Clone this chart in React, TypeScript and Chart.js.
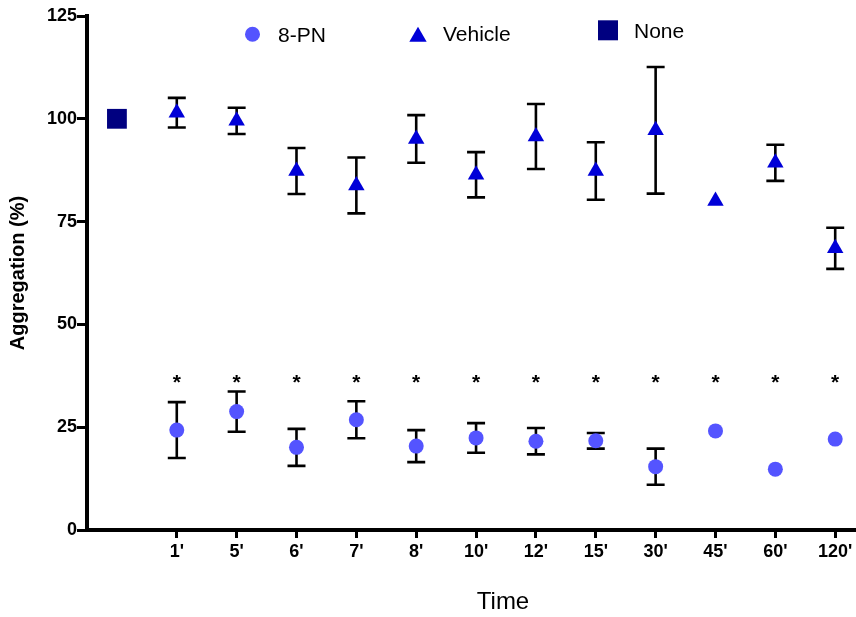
import { useEffect, useRef } from 'react';
import { Chart, registerables } from 'chart.js';

Chart.register(...registerables);

// ---- data ----
const TIME_LABELS = ['', "1'", "5'", "6'", "7'", "8'", "10'", "12'", "15'", "30'", "45'", "60'", "120'"];
const NONE_VALUE = [100];
const VEHICLE_MEAN = [101.5, 99.5, 87.3, 83.8, 95.1, 86.4, 95.7, 87.3, 97.2, 80.0, 89.3, 68.5];
const VEHICLE_SEM = [3.6, 3.2, 5.6, 6.8, 5.8, 5.5, 7.9, 7.0, 15.4, 0, 4.4, 5.0];
const PN_MEAN = [24.3, 28.8, 20.1, 26.8, 20.4, 22.4, 21.6, 21.7, 15.4, 24.1, 14.8, 22.1];
const PN_SEM = [6.8, 4.9, 4.5, 4.5, 3.9, 3.6, 3.2, 1.9, 4.4, 0, 0, 0];
const SIG_MARKS = ['*', '*', '*', '*', '*', '*', '*', '*', '*', '*', '*', '*'];
const SIG_LEVEL = 37;
const Y_TICKS = [0, 25, 50, 75, 100, 125];
const SERIES_NAMES = ['8-PN', 'Vehicle', 'None'];

const FONT = "'Liberation Sans', Arial, Helvetica, sans-serif";

const errorBarPlugin = {
  id: 'errorBars',
  beforeDatasetsDraw(chart: any) {
    const { ctx, scales } = chart;
    const x = scales.x;
    const y = scales.y;
    ctx.save();
    ctx.strokeStyle = '#000';
    ctx.lineWidth = 2.6;
    ctx.lineCap = 'butt';
    chart.data.datasets.forEach((ds: any) => {
      const errs = ds.errors;
      if (!errs) return;
      ds.data.forEach((pt: any, i: number) => {
        const e = errs[i];
        if (!e) return;
        const px = x.getPixelForValue(pt.x);
        const top = y.getPixelForValue(pt.y + e);
        const bot = y.getPixelForValue(pt.y - e);
        ctx.beginPath();
        ctx.moveTo(px, top);
        ctx.lineTo(px, bot);
        ctx.moveTo(px - 9, top);
        ctx.lineTo(px + 9, top);
        ctx.moveTo(px - 9, bot);
        ctx.lineTo(px + 9, bot);
        ctx.stroke();
      });
    });
    ctx.restore();
  },
};

const sigPlugin = {
  id: 'sigMarks',
  afterDatasetsDraw(chart: any) {
    const { ctx, scales } = chart;
    ctx.save();
    ctx.fillStyle = '#000';
    ctx.font = `bold 21px ${FONT}`;
    ctx.textAlign = 'center';
    ctx.textBaseline = 'alphabetic';
    SIG_MARKS.forEach((m, i) => {
      const px = scales.x.getPixelForValue(i + 1);
      const py = scales.y.getPixelForValue(SIG_LEVEL);
      ctx.fillText(m, px, py + 0.55 * 21);
    });
    ctx.restore();
  },
};

const legendPlugin = {
  id: 'customLegend',
  afterDraw(chart: any, _args: any, opts: any) {
    const { ctx } = chart;
    const items = opts.items || [];
    ctx.save();
    items.forEach((it: any) => {
      const ds = chart.data.datasets[it.dataset];
      ctx.fillStyle = ds.backgroundColor;
      ctx.beginPath();
      if (ds.pointStyle === 'circle') {
        ctx.arc(it.mx, it.my, it.r, 0, Math.PI * 2);
      } else if (ds.pointStyle === 'triangle') {
        ctx.moveTo(it.mx, it.my - it.r);
        ctx.lineTo(it.mx + it.r * Math.sin((2 * Math.PI) / 3), it.my + it.r * 0.5);
        ctx.lineTo(it.mx - it.r * Math.sin((2 * Math.PI) / 3), it.my + it.r * 0.5);
        ctx.closePath();
      } else {
        ctx.rect(it.mx - it.r, it.my - it.r, it.r * 2, it.r * 2);
      }
      ctx.fill();
      ctx.fillStyle = '#000';
      ctx.font = `21px ${FONT}`;
      ctx.textAlign = 'left';
      ctx.textBaseline = 'alphabetic';
      ctx.fillText(ds.label, it.tx, it.ty);
    });
    ctx.restore();
  },
};

export default function App() {
  const ref = useRef<HTMLCanvasElement>(null);

  useEffect(() => {
    if (!ref.current) return;
    const chart = new Chart(ref.current, {
      type: 'scatter',
      data: {
        datasets: [
          {
            label: SERIES_NAMES[0],
            data: PN_MEAN.map((v, i) => ({ x: i + 1, y: v })),
            errors: PN_SEM,
            pointStyle: 'circle',
            pointRadius: 7.5,
            backgroundColor: '#5454FF',
            borderColor: '#5454FF',
            borderWidth: 0,
            showLine: false,
          } as any,
          {
            label: SERIES_NAMES[1],
            data: VEHICLE_MEAN.map((v, i) => ({ x: i + 1, y: v })),
            errors: VEHICLE_SEM,
            pointStyle: 'triangle',
            pointRadius: 9.5,
            backgroundColor: '#0000D8',
            borderColor: '#0000D8',
            borderWidth: 0,
            showLine: false,
          } as any,
          {
            label: SERIES_NAMES[2],
            data: NONE_VALUE.map((v, i) => ({ x: i, y: v })),
            pointStyle: 'rect',
            pointRadius: 14,
            backgroundColor: '#000080',
            borderColor: '#000080',
            borderWidth: 0,
            showLine: false,
          } as any,
        ],
      },
      options: {
        animation: false,
        responsive: true,
        maintainAspectRatio: false,
        devicePixelRatio: 1,
        layout: { padding: { top: 16, left: 0, right: 21, bottom: 0 } },
        plugins: {
          legend: { display: false },
          tooltip: { enabled: false },
          customLegend: {
            items: [
              { dataset: 0, mx: 252.5, my: 34.3, r: 7.5, tx: 278, ty: 41.5 },
              { dataset: 1, mx: 418, my: 36.7, r: 10, tx: 443, ty: 40.7 },
              { dataset: 2, mx: 608, my: 30.3, r: 10, tx: 634, ty: 38.3 },
            ],
          },
        } as any,
        scales: {
          x: {
            type: 'linear',
            min: -0.5,
            max: 13.4,
            afterBuildTicks: (s: any) => {
              s.ticks = TIME_LABELS.map((l, i) => ({ value: i, label: l })).filter((t) => t.label !== '');
            },
            afterFit: (s: any) => {
              s.height = 87;
            },
            ticks: {
              autoSkip: false,
              maxRotation: 0,
              color: '#000',
              padding: 3,
              font: { family: FONT, size: 18, weight: 'bold' },
              callback: (v: any) => TIME_LABELS[v] ?? '',
            },
            grid: {
              display: true,
              drawOnChartArea: false,
              drawTicks: true,
              tickLength: 8,
              tickWidth: 3,
              tickColor: '#000',
            },
            border: { display: true, color: '#000', width: 4 },
            title: {
              display: true,
              text: 'Time',
              color: '#000',
              font: { family: FONT, size: 24, weight: 'normal' },
              padding: { top: 0, bottom: 0 },
            },
          },
          y: {
            type: 'linear',
            min: 0,
            max: 125,
            afterBuildTicks: (s: any) => {
              s.ticks = Y_TICKS.map((v) => ({ value: v }));
            },
            afterFit: (s: any) => {
              s.width = 87;
            },
            ticks: {
              color: '#000',
              padding: 0,
              font: { family: FONT, size: 18, weight: 'bold' },
            },
            grid: {
              display: true,
              drawOnChartArea: false,
              drawTicks: true,
              tickLength: 10,
              tickWidth: 3,
              tickColor: '#000',
            },
            border: { display: true, color: '#000', width: 4 },
            title: {
              display: true,
              text: 'Aggregation (%)',
              color: '#000',
              font: { family: FONT, size: 20, weight: 'bold' },
              padding: { top: 6, bottom: 0 },
            },
          },
        },
      } as any,
      plugins: [errorBarPlugin, sigPlugin, legendPlugin],
    });
    return () => chart.destroy();
  }, []);

  return (
    <div
      style={{
        position: 'fixed',
        left: 0,
        top: 0,
        width: 856,
        height: 617,
        overflow: 'hidden',
        background: '#fff',
      }}
    >
      <div style={{ position: 'relative', width: 940, height: 617 }}>
        <canvas ref={ref} />
      </div>
    </div>
  );
}
